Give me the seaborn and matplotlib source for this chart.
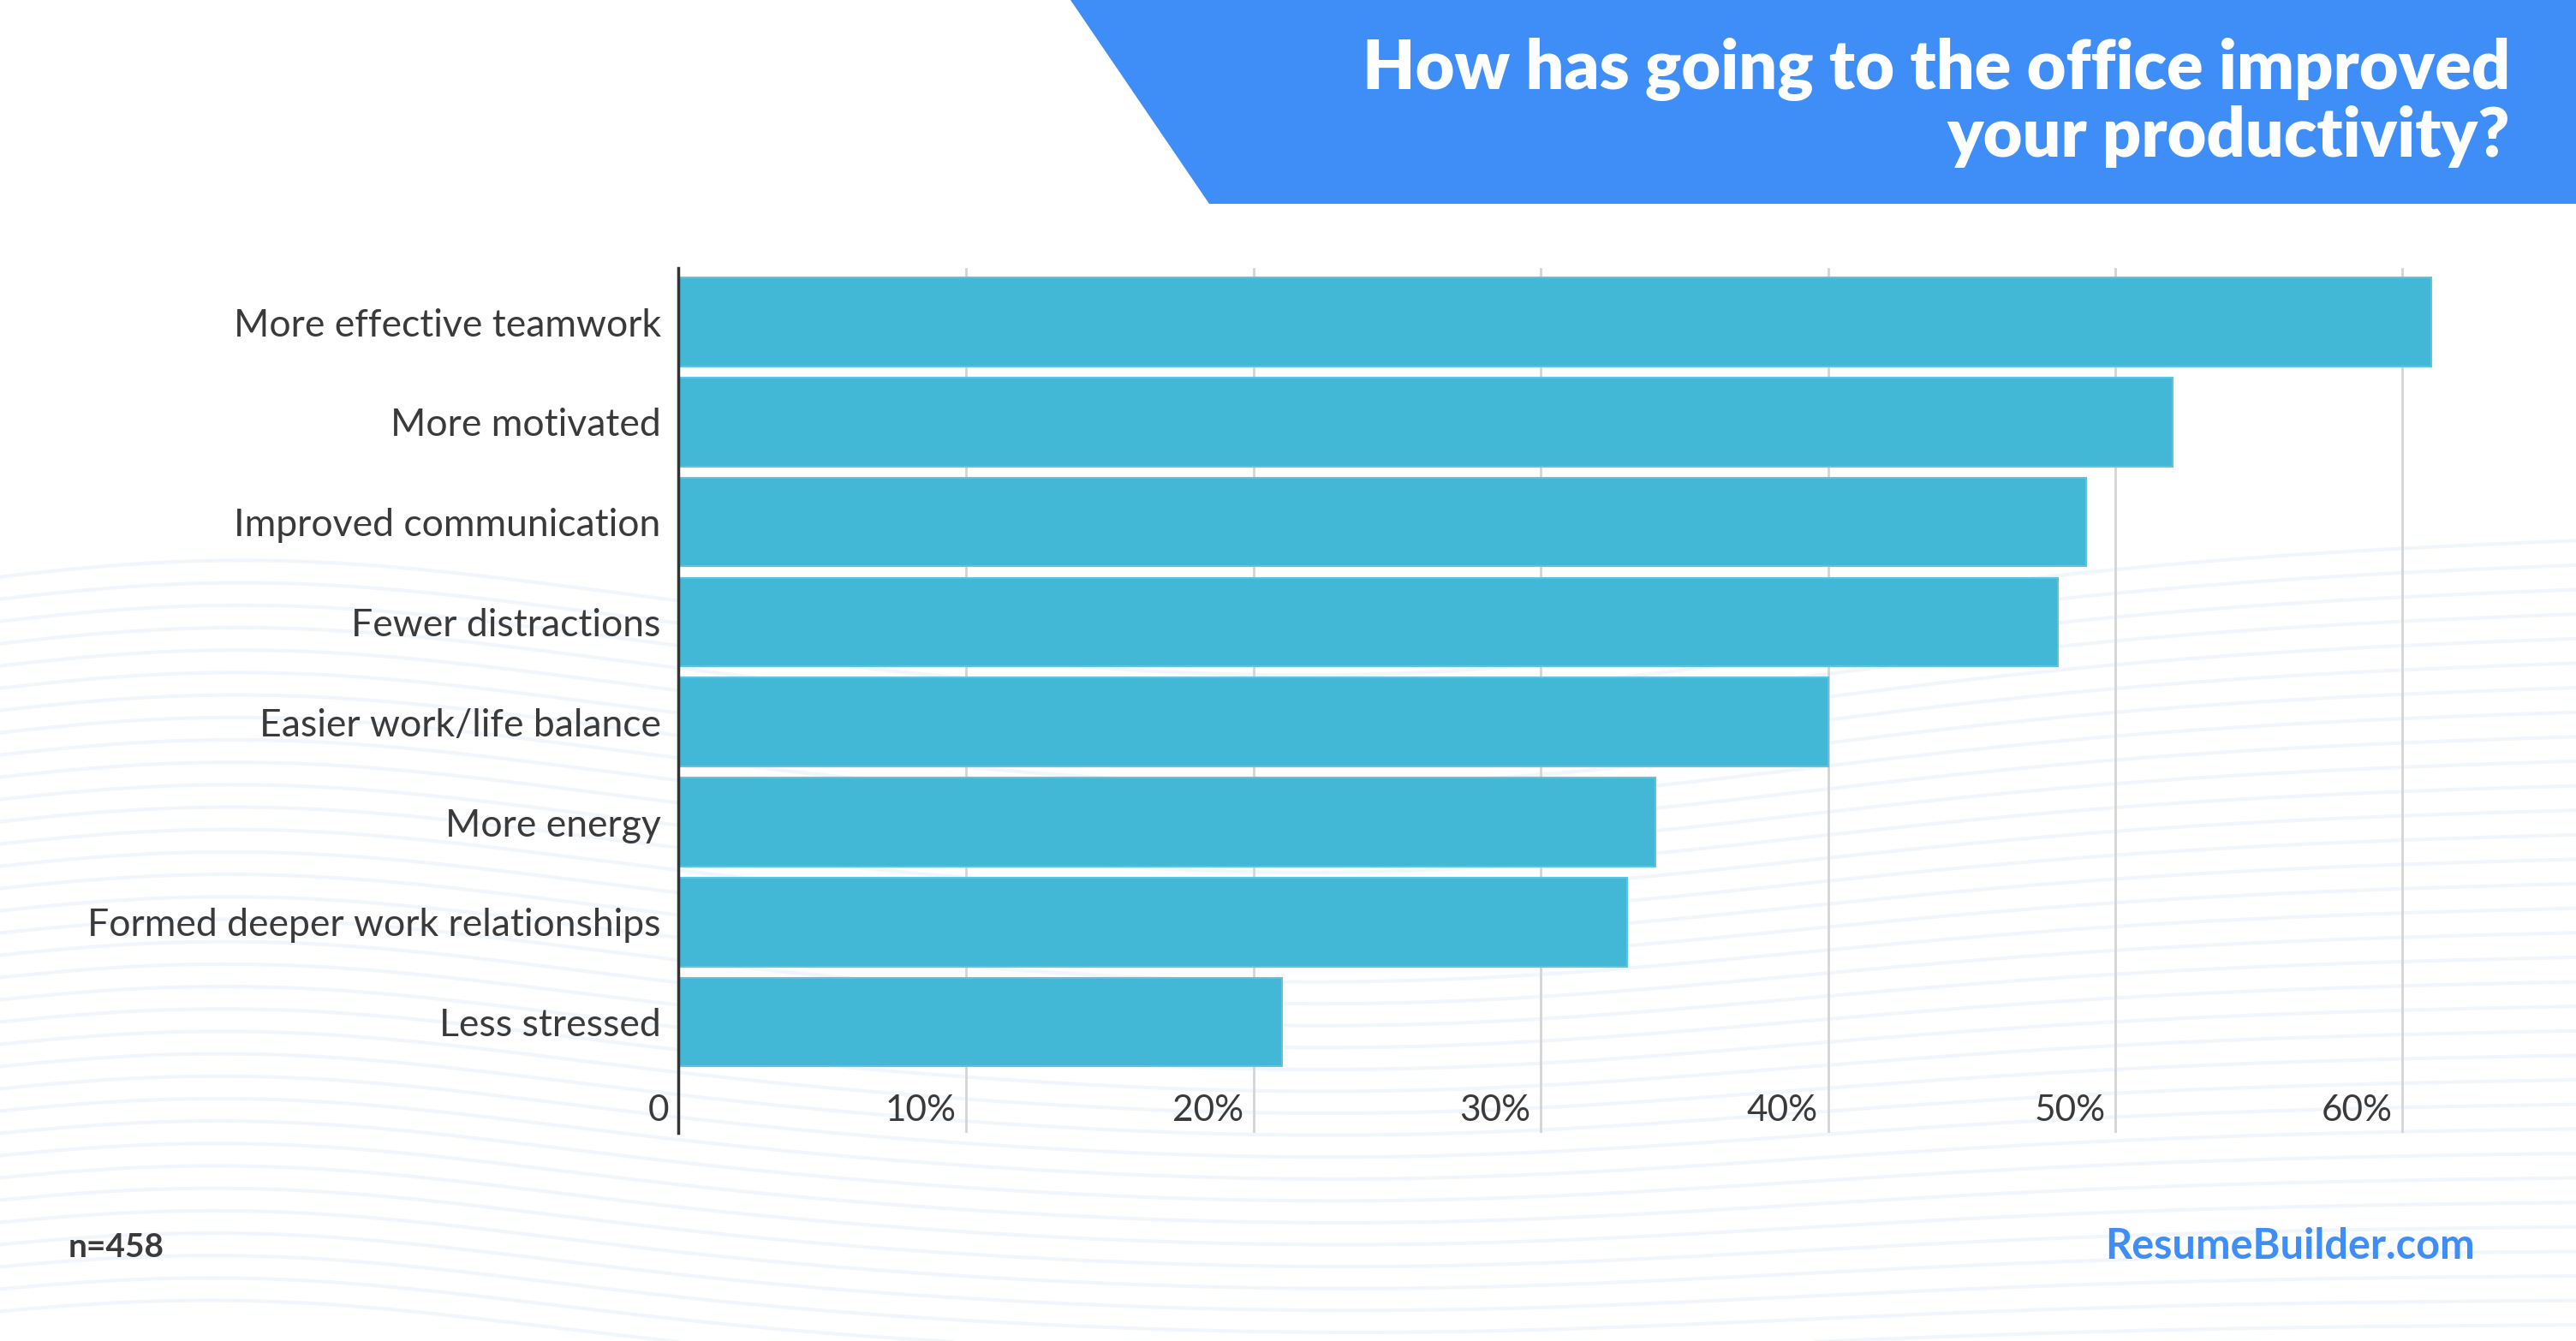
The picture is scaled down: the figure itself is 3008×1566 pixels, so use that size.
import numpy as np
import pandas as pd
import matplotlib.pyplot as plt
import seaborn as sns
from matplotlib.patches import Polygon

# data
categories = [
    "More effective teamwork",
    "More motivated",
    "Improved communication",
    "Fewer distractions",
    "Easier work/life balance",
    "More energy",
    "Formed deeper work relationships",
    "Less stressed",
]
shares = [61, 52, 49, 48, 40, 34, 33, 21]
tick_values = [0, 10, 20, 30, 40, 50, 60]
tick_labels = ["0", "10%", "20%", "30%", "40%", "50%", "60%"]

title_lines = ["How has going to the office improved", "your productivity?"]
sample_note = "n=458"
brand = "ResumeBuilder.com"

BAR = "#42b7d6"
BLUE = "#3f8ef7"
TEXT = "#3a3a3a"

sns.set_theme(style="white")
plt.rcParams["font.family"] = ["Lato", "DejaVu Sans"]

W, H = 3008, 1566
fig = plt.figure(figsize=(W / 100, H / 100), dpi=100)
fig.patch.set_facecolor("white")

# background: faint wave pattern + title banner
bg = fig.add_axes([0, 0, 1, 1], zorder=0)
bg.set_xlim(0, W)
bg.set_ylim(H, 0)
bg.axis("off")
xs = np.linspace(0, W, 400)
for k in range(34):
    base = 720 + k * 26
    bump = -60 * np.exp(-((xs - 250) / 500) ** 2) + 90 * np.exp(-((xs - 1600) / 700) ** 2) * (1 - k / 50)
    ys = base + bump - 0.03 * xs * (1 - k / 34)
    bg.plot(xs, ys, color="#eef4fc", lw=3, alpha=0.8, zorder=0)
bg.add_patch(Polygon([[1250, 0], [W, 0], [W, 238], [1412, 238]],
                     closed=True, facecolor=BLUE, edgecolor="none", zorder=1))
for y, line in zip([81, 159], title_lines):
    bg.text(2931, y, line, ha="right", va="center", color="white",
            fontsize=57, fontweight="heavy", zorder=2)
bg.text(80, 1456, sample_note, ha="left", va="center", color=TEXT,
        fontsize=28, fontweight="bold")
bg.text(2890, 1456, brand, ha="right", va="center", color=BLUE,
        fontsize=35, fontweight="bold")

# main bar chart
x0 = 792.5
px_per_unit = 33.55
ax = fig.add_axes([x0 / W, (H - 1323) / H, (W - x0) / W, (1323 - 313) / H], zorder=2)
ax.patch.set_alpha(0)

df = pd.DataFrame({"category": categories, "share": shares})
sns.barplot(data=df, x="share", y="category", orient="h", color=BAR,
            saturation=1, width=0.887, edgecolor="#5cc4e0", linewidth=1.5, ax=ax)

ax.set_xlim(0, (W - x0) / px_per_unit)
ax.set_ylim(8.108, -0.54)
ax.set_xlabel("")
ax.set_ylabel("")
ax.set_xticks(tick_values[1:])
ax.set_xticklabels([])
ax.tick_params(axis="x", length=0)
ax.grid(axis="x", color="#d4d4d4", lw=2, zorder=0)
ax.set_axisbelow(True)
ax.tick_params(axis="y", length=0, pad=15, labelsize=32, labelcolor=TEXT)
for s in ["top", "right", "bottom"]:
    ax.spines[s].set_visible(False)
ax.spines["left"].set_color("#333333")
ax.spines["left"].set_linewidth(2.5)
ax.spines["left"].set_zorder(5)

for v, lab in zip(tick_values, tick_labels):
    ax.text(v - 0.35, 7.885, lab, ha="right", va="center", fontsize=30.5, color=TEXT)

fig.savefig("out.png", dpi=100)
